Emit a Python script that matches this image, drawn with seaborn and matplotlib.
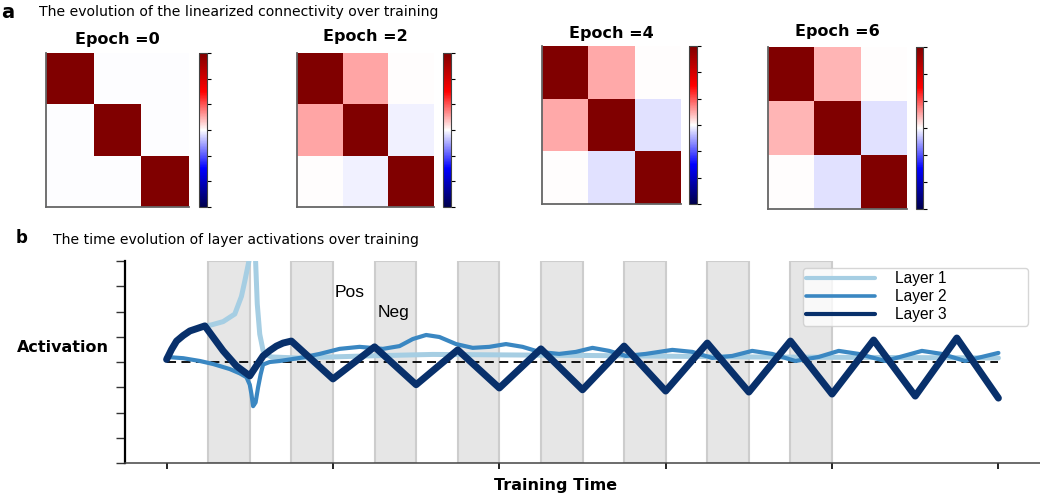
import numpy as np
import matplotlib
matplotlib.use("Agg")
import matplotlib.pyplot as plt
from matplotlib.lines import Line2D
import seaborn as sns

# connectivity matrices at a few epochs
epochs = [0, 2, 4, 6]
conn = {
    0: [[1.0, -0.004, -0.004], [-0.004, 1.0, -0.004], [-0.004, -0.004, 1.0]],
    2: [[1.0, 0.175, 0.006], [0.175, 1.0, -0.024], [0.006, -0.024, 1.0]],
    4: [[1.0, 0.167, 0.006], [0.167, 1.0, -0.061], [0.006, -0.061, 1.0]],
    6: [[1.0, 0.141, 0.006], [0.141, 1.0, -0.055], [0.006, -0.055, 1.0]],
}

# layer activations over training time
t1 = [0, 0.03, 0.06, 0.1, 0.14, 0.23, 0.27, 0.34, 0.41, 0.45, 0.47, 0.495, 0.51, 0.535,
      0.545, 0.56, 0.58, 0.6, 0.63, 0.78, 1.2, 1.6, 2.5, 3.5, 5.0]
layer1 = [0.1, 0.5, 0.83, 1.05, 1.23, 1.43, 1.47, 1.6, 1.9, 2.6, 3.2, 4.0, 8.0, 4.0,
          2.3, 1.1, 0.45, 0.3, 0.2, 0.16, 0.24, 0.3, 0.26, 0.2, 0.16]

t2 = [0, 0.1, 0.2, 0.28, 0.38, 0.44, 0.48, 0.5, 0.51, 0.52, 0.535, 0.55, 0.565, 0.58,
      0.62, 0.68, 0.8, 0.92, 1.04, 1.16, 1.3, 1.4, 1.48, 1.56, 1.64, 1.74, 1.84, 1.94,
      2.04, 2.14, 2.24, 2.36, 2.46, 2.56, 2.66, 2.76, 2.88, 3.04, 3.16, 3.28, 3.4, 3.52,
      3.64, 3.78, 3.92, 4.04, 4.16, 4.32, 4.54, 4.66, 4.8, 4.9, 5.0]
layer2 = [0.2, 0.15, 0.04, -0.08, -0.28, -0.45, -0.6, -0.9, -1.27, -1.75, -1.6, -1.0,
          -0.5, -0.1, 0.0, 0.04, 0.16, 0.32, 0.52, 0.6, 0.52, 0.63, 0.91, 1.07, 0.99,
          0.71, 0.56, 0.6, 0.71, 0.6, 0.4, 0.32, 0.4, 0.56, 0.44, 0.24, 0.32, 0.48, 0.4,
          0.16, 0.24, 0.44, 0.32, 0.04, 0.2, 0.44, 0.32, 0.04, 0.44, 0.32, 0.04, 0.2, 0.36]

t3 = [0, 0.03, 0.06, 0.1, 0.14, 0.23, 0.30, 0.34, 0.42, 0.5, 0.54, 0.58, 0.62,
      0.66, 0.70, 0.75, 1.0, 1.25, 1.5, 1.75, 2.0, 2.25, 2.5, 2.75, 3.0, 3.25, 3.5,
      3.75, 4.0, 4.25, 4.5, 4.75, 5.0]
layer3 = [0.1, 0.5, 0.83, 1.05, 1.23, 1.43, 0.8, 0.44, -0.16, -0.55, -0.15, 0.24,
          0.45, 0.63, 0.75, 0.83, -0.67, 0.6, -0.9, 0.48, -1.03, 0.52, -1.1, 0.63, -1.15,
          0.75, -1.19, 0.83, -1.27, 0.87, -1.35, 0.95, -1.43]

# shaded training phases
phase_starts = [0.25, 0.75, 1.25, 1.75, 2.25, 2.75, 3.25, 3.75]
phase_len = 0.25

layer_names = ["Layer 1", "Layer 2", "Layer 3"]
layer_colors = ["#a6cee3", "#3a87c2", "#08306b"]

sns.set_style("ticks")
plt.rcParams["font.family"] = ["DejaVu Sans"]
plt.rcParams["text.color"] = "black"
plt.rcParams["axes.labelcolor"] = "black"

W, H = 1040, 498
fig = plt.figure(figsize=(W / 100, H / 100), dpi=100)


def rect(x0, y0, x1, y1):
    return [x0 / W, 1 - y1 / H, (x1 - x0) / W, (y1 - y0) / H]


# panel a
heat_boxes = [(46, 53, 189, 207), (297, 53, 434, 207), (542, 46, 681, 204), (768, 47, 907, 209)]
cbar_boxes = [(199, 53, 207, 207), (443, 53, 451, 207), (689, 46, 697, 204), (916, 47, 923, 209)]
title_pads = [6.7, 8.7, 5.7, 8.2]

for ep, hb, cb, pad in zip(epochs, heat_boxes, cbar_boxes, title_pads):
    ax = fig.add_axes(rect(*hb))
    cax = fig.add_axes(rect(*cb))
    sns.heatmap(np.array(conn[ep]), ax=ax, cbar_ax=cax, cmap="seismic", vmin=-1, vmax=1,
                xticklabels=False, yticklabels=False)
    ax.set_title("Epoch =%d" % ep, fontweight="bold", fontsize=11.5, pad=pad)
    for s in ["left", "bottom"]:
        ax.spines[s].set_visible(True)
        ax.spines[s].set_color("#666666")
        ax.spines[s].set_linewidth(1.3)
    cbar = ax.collections[0].colorbar
    cbar.set_ticks(np.linspace(-1, 1, 7))
    cbar.ax.tick_params(length=3, width=0.8, labelright=False, right=True, color="black")
    cbar.outline.set_linewidth(0.8)
    cbar.outline.set_edgecolor("#444444")

fig.text(8 / W, 1 - 12 / H, "a", fontweight="bold", fontsize=14, ha="center", va="center")
fig.text(39 / W, 1 - 12 / H, "The evolution of the linearized connectivity over training",
         fontsize=10.1, ha="left", va="center")

# panel b
fig.text(22 / W, 1 - 238 / H, "b", fontweight="bold", fontsize=12, ha="center", va="center")
fig.text(53 / W, 1 - 240 / H, "The time evolution of layer activations over training",
         fontsize=10.1, ha="left", va="center")

ax = fig.add_axes(rect(125, 261, 1040, 463))
for s in phase_starts:
    ax.axvspan(s, s + phase_len, facecolor="#e6e6e6", edgecolor="#cdcdcd", lw=1.5, zorder=0)
ax.hlines(0, min(t3), max(t3), colors="black", linestyles=(0, (5, 3)), lw=1.3, zorder=2)

for t, y, c, lw in zip([t1, t2, t3], [layer1, layer2, layer3], layer_colors, [3.6, 3.0, 5.0]):
    sns.lineplot(x=t, y=y, ax=ax, color=c, lw=lw, estimator=None, sort=False, zorder=3,
                 solid_joinstyle="round")

ax.set_xlim(-0.25, 5.25)
ax.set_ylim(-4, 4)
ax.set_xticks(range(6))
ax.set_yticks(range(-4, 5))
ax.set_xticklabels([])
ax.set_yticklabels([])
ax.tick_params(axis="y", length=6.5, width=1.0, color="#333333")
ax.tick_params(axis="x", length=4, width=1.2, color="black")
sns.despine(ax=ax)
ax.spines["left"].set_linewidth(1.6)
ax.spines["left"].set_color("black")
ax.spines["bottom"].set_linewidth(1.1)
ax.spines["bottom"].set_color("#444444")

ax.text(1.01, 2.75, "Pos", family="Liberation Sans", fontsize=12.5, va="center")
ax.text(1.27, 1.97, "Neg", family="Liberation Sans", fontsize=12.5, va="center")

ax.set_xlabel("Training Time", fontweight="bold", fontsize=11.5)
ax.xaxis.set_label_coords(0.471, -0.072)
ax.set_ylabel("Activation", fontweight="bold", fontsize=11.5, rotation=0, ha="center", va="center")
ax.yaxis.set_label_coords(-0.068, 0.574)

handles = [Line2D([], [], color=c, lw=lw) for c, lw in zip(layer_colors, [3.0, 2.6, 3.0])]
leg = ax.legend(handles, layer_names, loc="upper left", bbox_to_anchor=(0.741, 0.5, 0.246, 0.465),
                mode="expand", borderaxespad=0, prop={"family": "Liberation Sans", "size": 11.2},
                handlelength=4.4, handletextpad=1.3, labelspacing=0.18, borderpad=0.22,
                frameon=True, framealpha=0.8, edgecolor="#cccccc", fancybox=True)
leg.set_zorder(5)

fig.savefig("out.png", dpi=100)
